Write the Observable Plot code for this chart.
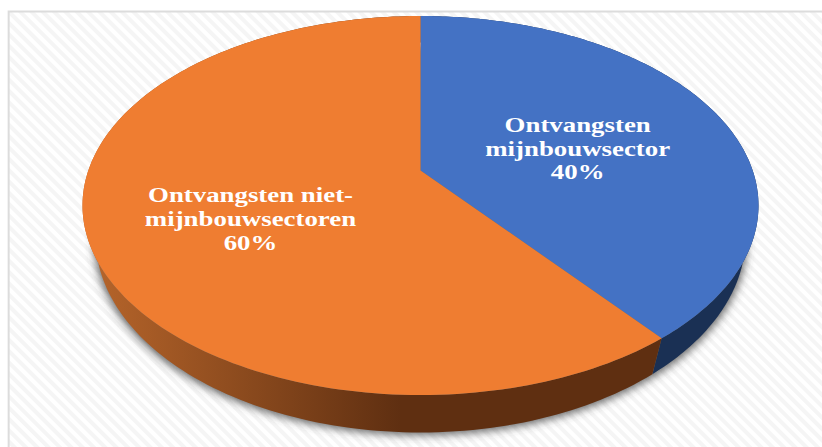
<!DOCTYPE html>
<html><head><meta charset="utf-8">
<script src="https://cdn.jsdelivr.net/npm/d3@7"></script>
<script src="https://cdn.jsdelivr.net/npm/@observablehq/plot@0.6"></script>
<style>html,body{margin:0;padding:0;background:#fff;overflow:hidden}svg{display:block}</style>
</head><body><div id="chart"></div>
<script>
const categories = ["Ontvangsten mijnbouwsector", "Ontvangsten niet-mijnbouwsectoren"];
const shares = [40, 60];
const topColors = ["#4472c4", "#ef7d31"];
const wallColors = ["#1a3054", "url(#wallGrad)"];
const labelLines = [["Ontvangsten", "mijnbouwsector", "40%"], ["Ontvangsten niet-", "mijnbouwsectoren", "60%"]];
const labelX = [0.465, -0.503];
const labelY = [0.427, 0.30, 0.178, 0.058, -0.069, -0.2];
const W = 822, H = 447;
const k = 0.25, apexY = 0.185;
const lower = {a: 325 / 338, cy: -32 / 189.5, b: 195 / 189.5};
const rim = deg => {
  const t = deg * Math.PI / 180, u = Math.sin(t), v = Math.cos(t), d = 1 + k * v;
  return [Math.sqrt(1 - k * k) * u / d, (v + k) / d];
};
const bottom = ([x, y]) => [x * lower.a, lower.cy + y * lower.b];
const sum = d3.sum(shares);
let acc = 0;
const top_ = [], wall = [], silhouette = [];
shares.forEach((s, i) => {
  const a0 = acc / sum * 360, a1 = (acc += s) / sum * 360;
  const arc = d3.range(0, 181).map(j => rim(a0 + (a1 - a0) * j / 180));
  [[0, apexY], ...arc].forEach(([x, y]) => top_.push({x, y, i}));
  [...arc, ...arc.map(bottom).reverse()].forEach(([x, y]) => wall.push({x, y, i}));
});
for (let j = 0; j <= 360; j++) { const [x, y] = bottom(rim(j)); silhouette.push({x, y}); }

function svgEl(markup) {
  const g = document.createElementNS("http://www.w3.org/2000/svg", "g");
  g.innerHTML = markup;
  return g;
}
const defs = () => svgEl(`<defs>
  <linearGradient id="wallGrad" gradientUnits="userSpaceOnUse" x1="95" x2="400" y1="0" y2="0">
    <stop offset="0" stop-color="#b5642a"/><stop offset="1" stop-color="#5f2f11"/>
  </linearGradient>
  <pattern id="stripes" patternUnits="userSpaceOnUse" width="8" height="8" patternTransform="rotate(45)">
    <rect width="8" height="8" fill="#ffffff"/><rect width="8" height="4" fill="#f5f5f5"/>
  </pattern>
  <filter id="soft" x="-10%" y="-10%" width="120%" height="120%"><feGaussianBlur stdDeviation="4"/></filter>
</defs>`);

const plot = Plot.plot({
  width: W, height: H,
  marginTop: 0, marginRight: 0, marginBottom: 0, marginLeft: 0,
  x: {domain: [-1, 1], range: [82, 758], axis: null},
  y: {domain: [-1, 1], range: [394.5, 15.5], axis: null},
  style: {background: "#fff"},
  marks: [
    defs,
    Plot.rect([0], {x1: -1.217, x2: 1.4, y1: 1.021, y2: -1.4, fill: "url(#stripes)", stroke: "#dcdcdc", strokeWidth: 2}),
    Plot.line(silhouette, {x: d => d.x * 1.005, y: d => d.y - 0.015, fill: "#444", fillOpacity: 0.8, stroke: "none"}),
    Plot.line(wall, {x: "x", y: "y", z: "i", fill: d => wallColors[d.i], stroke: "none"}),
    Plot.line(top_, {x: "x", y: "y", z: "i", fill: d => topColors[d.i], stroke: "none"}),
    Plot.text(labelLines.flat(), {
      x: (d, n) => labelX[n < 3 ? 0 : 1],
      y: (d, n) => labelY[n],
      text: d => d,
      fill: "white", fontFamily: "Liberation Serif", fontWeight: "bold", fontSize: 22
    })
  ]
});
const lineGroups = plot.querySelectorAll('g[aria-label="line"]');
if (lineGroups[0]) lineGroups[0].setAttribute("filter", "url(#soft)");
document.getElementById("chart").append(plot);
// The reference's labels are stretched horizontally.
plot.querySelectorAll("text").forEach(t => {
  t.setAttribute("lengthAdjust", "spacingAndGlyphs");
  t.setAttribute("textLength", (t.getComputedTextLength() * 1.22).toFixed(1));
});
</script></body></html>
